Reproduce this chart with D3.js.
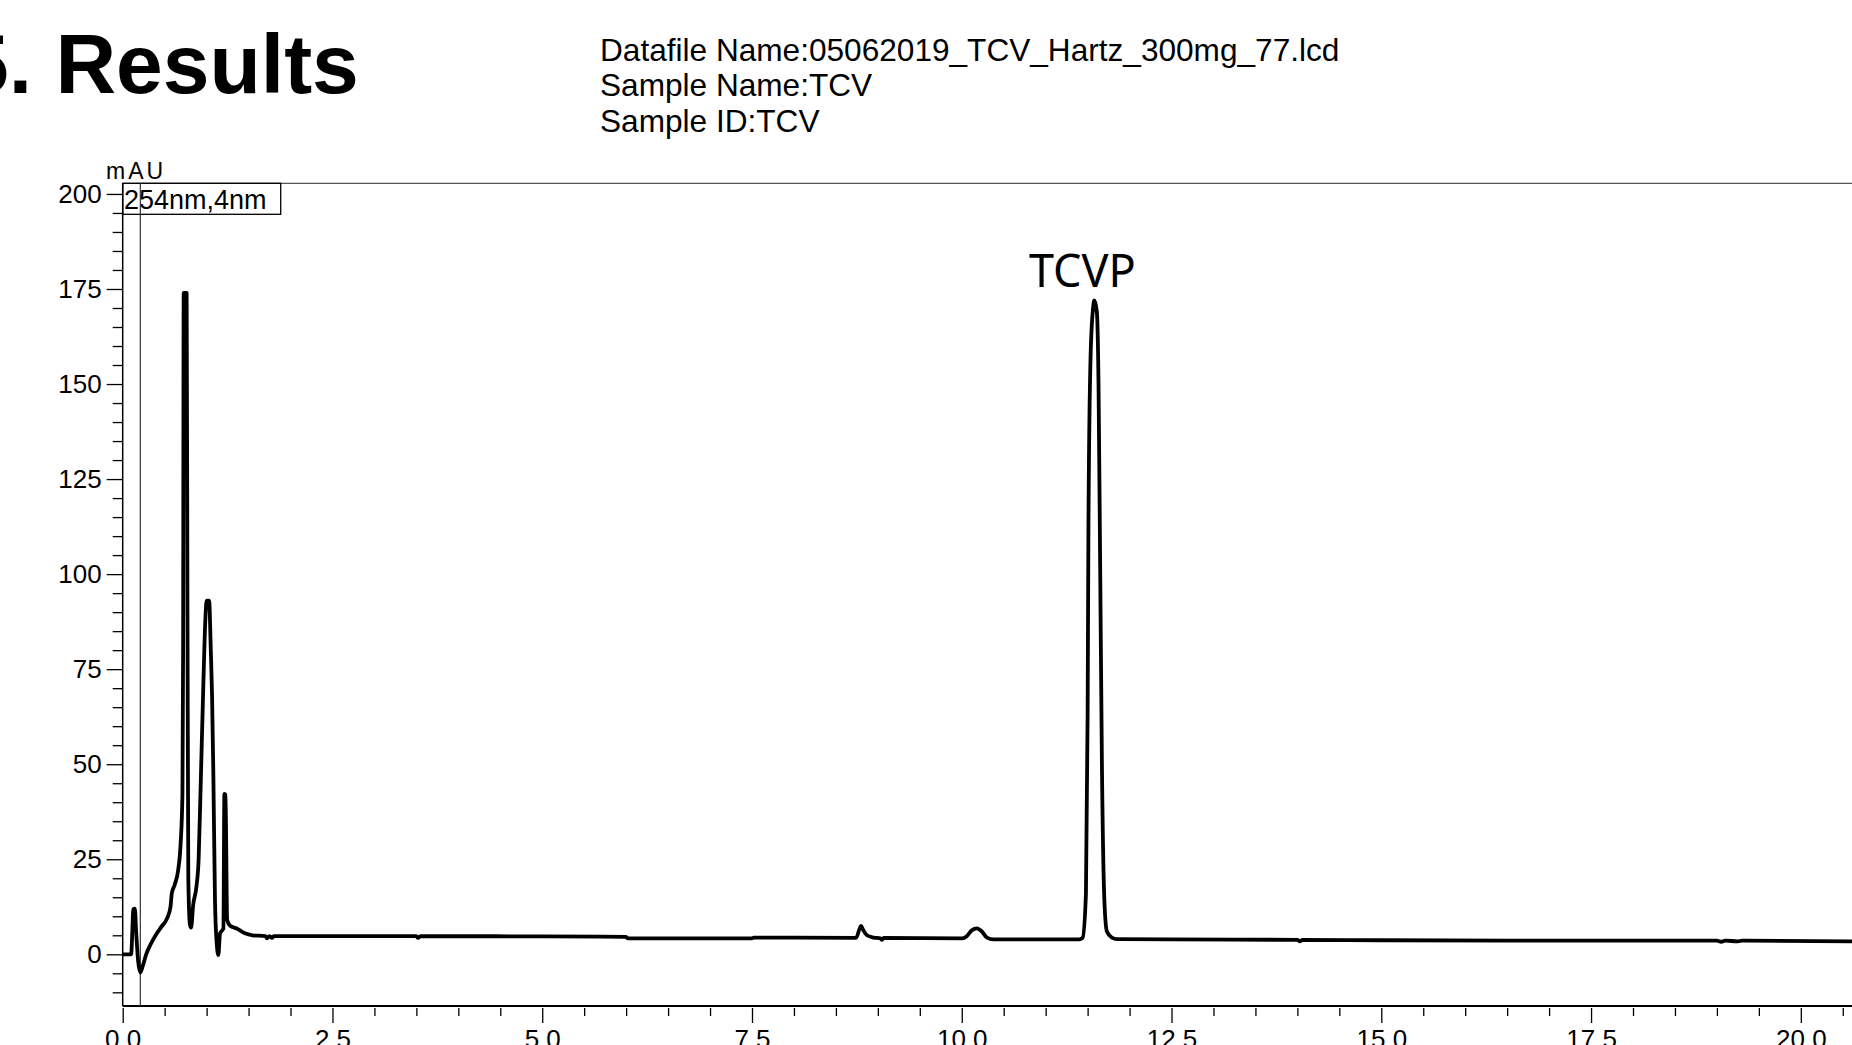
<!DOCTYPE html>
<meta charset="utf-8">

<style>
body { margin: 0; background: #fff; }
svg { display: block; }
.title {
  font-family: "Liberation Sans", Arial, Helvetica, sans-serif;
  font-weight: bold;
  font-size: 84px;
}
.info {
  font-family: "Liberation Sans", Arial, Helvetica, sans-serif;
  font-size: 31.6px;
}
.axis text {
  font-family: "Liberation Sans", Arial, Helvetica, sans-serif;
  font-size: 26px;
  fill: #000;
}
.axis line { stroke: #000; stroke-width: 1.3; }
.trace {
  fill: none;
  stroke: #000;
  stroke-width: 3.8;
  stroke-linejoin: round;
}
.peak-label {
  font-family: "Noto Sans", "Open Sans", sans-serif;
  font-size: 45px;
  text-anchor: middle;
}
</style>

<body>
<script src="https://d3js.org/d3.v7.min.js"></script>
<script>
var w = 1852, h = 1045;

// header texts
var titleText = "5. Results";
var infoLines = ["Datafile Name:05062019_TCV_Hartz_300mg_77.lcd",
                 "Sample Name:TCV",
                 "Sample ID:TCV"];
var channelLabel = "254nm,4nm";
var unitLabel = "mAU";

// retention time (min) and absorbance (mAU)
var times = [0.00, 0.10, 0.115, 0.125, 0.145, 0.16, 0.185, 0.21, 0.24, 0.28,
             0.33, 0.40, 0.46, 0.53, 0.57, 0.585, 0.62, 0.66, 0.69, 0.712,
             0.72, 0.727, 0.762, 0.772, 0.782, 0.80, 0.815, 0.84, 0.88, 0.905,
             0.93, 0.96, 0.985, 1.00, 1.03, 1.05, 1.065, 1.08, 1.10, 1.12,
             1.14, 1.16, 1.20, 1.212, 1.225, 1.245, 1.28, 1.36, 1.45, 1.55,
             1.70, 1.72, 1.75, 1.78, 1.80, 2.5, 3.5, 3.52, 3.55, 5.0,
             6.0, 6.02, 7.5, 7.52, 8.74, 8.80, 8.82, 8.87, 8.95, 9.03,
             9.05, 9.07, 10.0, 10.05, 10.12, 10.18, 10.24, 10.30, 10.38, 11.40,
             11.44, 11.48, 11.50, 11.51, 11.535, 11.565, 11.58, 11.61, 11.63, 11.65,
             11.67, 11.70, 11.73, 11.79, 11.85, 12.5, 14.0, 14.03, 14.06, 15.0,
             17.5, 19.0, 19.05, 19.1, 19.25, 19.3, 20.61];
var absorbance = [0.0, 0.0, 6.0, 11.8, 12.0, 6.0, -2.0, -4.8, -3.0, 0.0,
                  2.5, 5.3, 7.2, 9.5, 12.5, 16.0, 18.3, 22.0, 29.0, 42.0,
                  80.0, 174.0, 174.0, 90.0, 20.0, 8.0, 7.0, 13.0, 18.0, 25.0,
                  45.0, 70.0, 88.0, 93.0, 93.0, 80.0, 68.0, 48.0, 14.0, 3.0,
                  -0.2, 5.5, 6.8, 42.2, 42.0, 9.0, 7.5, 6.8, 5.6, 5.0,
                  4.8, 4.2, 4.8, 4.3, 4.8, 4.8, 4.8, 4.3, 4.8, 4.7,
                  4.6, 4.2, 4.2, 4.4, 4.3, 7.5, 6.6, 5.0, 4.4, 4.2,
                  3.8, 4.3, 4.2, 4.6, 6.3, 6.8, 6.0, 4.4, 3.9, 3.9,
                  4.3, 16.0, 63.0, 113.0, 157.0, 170.0, 172.0, 169.0, 150.0, 101.0,
                  51.0, 14.0, 6.0, 4.4, 4.0, 3.9, 3.8, 3.4, 3.8, 3.7,
                  3.6, 3.6, 3.3, 3.6, 3.4, 3.6, 3.4];

var peakNames = ["TCVP"];
var peakTimes = [11.58];
var peakHeights = [172.0];

var xMajor = [0, 2.5, 5, 7.5, 10, 12.5, 15, 17.5, 20];
var yMajor = [0, 25, 50, 75, 100, 125, 150, 175, 200];
var markerTime = 0.21;

var plotL = 122.7, plotT = 183.3, plotR = w, plotB = 1006;

var x = d3.scaleLinear().domain([0, 20.61]).range([plotL, plotR]);
var y = d3.scaleLinear().domain([-13.6, 202.8]).range([plotB, plotT]);

var svg = d3.select("body").append("svg")
            .attr("width", w)
            .attr("height", h);

svg.append("rect").attr("width", w).attr("height", h).attr("fill", "#fff");

// header
svg.append("text")
    .attr("class", "title")
    .attr("x", -38)
    .attr("y", 93)
    .text(titleText);

svg.append("g")
    .selectAll("text")
    .data(infoLines)
    .enter()
    .append("text")
    .attr("class", "info")
    .attr("x", 600)
    .attr("y", function(d, i){ return 61 + i * 35.4; })
    .text(function(d){ return d; });

// minor ticks
var yMinor = d3.range(-10, 201, 5).filter(function(v){ return v % 25 !== 0; });
var xMinor = d3.range(0, 20.6, 0.5).filter(function(v){ return v % 2.5 !== 0; });

svg.append("g")
    .attr("class", "axis")
    .attr("transform", "translate(" + plotL + ",0)")
    .call(d3.axisLeft(y).tickValues(yMinor).tickSize(10).tickFormat(""))
    .call(function(g){ g.select(".domain").remove(); });

svg.append("g")
    .attr("class", "axis")
    .attr("transform", "translate(" + plotL + ",0)")
    .call(d3.axisLeft(y).tickValues(yMajor).tickSize(16).tickPadding(5).tickFormat(d3.format("d")))
    .call(function(g){ g.select(".domain").remove(); });

svg.append("g")
    .attr("class", "axis")
    .attr("transform", "translate(0," + (plotB + 2) + ")")
    .call(d3.axisBottom(x).tickValues(xMinor).tickSize(8).tickFormat(""))
    .call(function(g){ g.select(".domain").remove(); });

svg.append("g")
    .attr("class", "axis")
    .attr("transform", "translate(0," + (plotB + 2) + ")")
    .call(d3.axisBottom(x).tickValues(xMajor).tickSize(15).tickPadding(7).tickFormat(d3.format(".1f")))
    .call(function(g){ g.select(".domain").remove(); });

// frame
svg.append("line")
    .attr("x1", plotL).attr("x2", plotR)
    .attr("y1", plotT).attr("y2", plotT)
    .attr("stroke", "#555").attr("stroke-width", 1.3);
svg.append("line")
    .attr("x1", plotL).attr("x2", plotR)
    .attr("y1", plotB).attr("y2", plotB)
    .attr("stroke", "#000").attr("stroke-width", 2);
svg.append("line")
    .attr("x1", plotL).attr("x2", plotL)
    .attr("y1", plotT).attr("y2", plotB)
    .attr("stroke", "#000").attr("stroke-width", 1.5);

// unit + channel box
svg.append("text")
    .attr("class", "info")
    .attr("x", 106)
    .attr("y", 179)
    .style("font-size", "23px")
    .style("letter-spacing", "3px")
    .text(unitLabel);

svg.append("rect")
    .attr("x", plotL).attr("y", plotT)
    .attr("width", 158).attr("height", 31)
    .attr("fill", "none")
    .attr("stroke", "#000").attr("stroke-width", 1.3);

svg.append("text")
    .attr("class", "info")
    .attr("x", 124)
    .attr("y", 209)
    .style("font-size", "27px")
    .text(channelLabel);

// marker line
svg.append("line")
    .attr("x1", x(markerTime)).attr("x2", x(markerTime))
    .attr("y1", plotT).attr("y2", plotB)
    .attr("stroke", "#333").attr("stroke-width", 1.2);

// trace
var pts = times.map(function(t, i){ return [t, absorbance[i]]; });
var line = d3.line()
    .x(function(d){ return x(d[0]); })
    .y(function(d){ return y(d[1]); })
    .curve(d3.curveMonotoneX);

svg.append("path")
    .datum(pts)
    .attr("class", "trace")
    .attr("d", line);

svg.append("g")
    .selectAll("text")
    .data(peakNames)
    .enter()
    .append("text")
    .attr("class", "peak-label")
    .attr("x", function(d, i){ return x(peakTimes[i]) - 12; })
    .attr("y", function(d, i){ return y(peakHeights[i]) - 13; })
    .text(function(d){ return d; });
</script>
</body>
